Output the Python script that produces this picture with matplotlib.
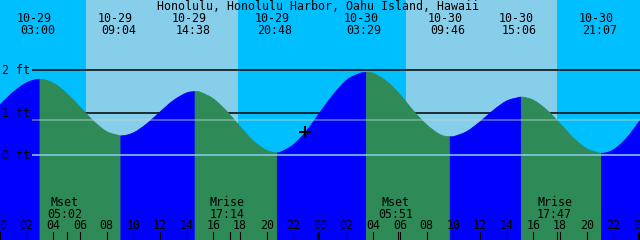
import matplotlib
matplotlib.use("Agg")
import matplotlib.pyplot as plt
import matplotlib.transforms as mtransforms
from matplotlib.path import Path
from matplotlib.patches import PathPatch
import numpy as np

# ---------------- data ----------------
title = "Honolulu, Honolulu Harbor, Oahu Island, Hawaii"
tide_dates = ["10-29", "10-29", "10-29", "10-29", "10-30", "10-30", "10-30", "10-30"]
tide_times = ["03:00", "09:04", "14:38", "20:48", "03:29", "09:46", "15:06", "21:07"]
tide_heights = [1.78, 0.45, 1.49, 0.05, 1.94, 0.43, 1.36, 0.04]

# water level, every hour from 10-29 00:00 to 10-31 00:00 (ft)
hourly_heights = [1.18, 1.48, 1.70, 1.78, 1.69, 1.45, 1.13, 0.80, 0.55, 0.45,
                  0.52, 0.73, 1.01, 1.28, 1.46, 1.48, 1.32, 1.03, 0.67, 0.33,
                  0.11, 0.06, 0.24, 0.57, 1.00, 1.42, 1.76, 1.92, 1.92, 1.73,
                  1.42, 1.04, 0.71, 0.48, 0.43, 0.55, 0.78, 1.05, 1.27, 1.36,
                  1.29, 1.06, 0.74, 0.40, 0.15, 0.04, 0.12, 0.40, 0.81]

day_dates = ["10-29", "10-30"]
sunrise_times = ["06:27", "06:27"]
sunset_times = ["17:50", "17:46"]

moon_dates = ["10-29", "10-29", "10-30", "10-30"]
moon_names = ["Mset", "Mrise", "Mset", "Mrise"]
moon_times = ["05:02", "17:14", "05:51", "17:47"]

level_values = [2, 1, 0]
level_labels = ["2 ft", "1 ft", "0 ft"]
mean_level = 0.82

now_time = "22:52"
now_date = "10-29"
now_height = 0.54

# ---------------- helpers ----------------
def to_hours(date, clock):
    off = 0 if date == "10-29" else 24
    hh, mm = clock.split(":")
    return off + int(hh) + int(mm) / 60.0

NIGHT = "#00BFFF"
DAY = "#87CEEB"
FLOOD = "#0000FF"
EBB = "#2E8B57"
PXH = 640 / 48.0  # pixels per hour
YMIN = -2.0

def yf(px):  # pixel row (from top) -> axes fraction
    return 1 - px / 240.0

fig = plt.figure(figsize=(6.4, 2.4), dpi=100)
ax = fig.add_axes([0, 0, 1, 1])
ax.set_xlim(0, 48)
ax.set_ylim(YMIN, 155 / 42.5)
ax.axis("off")
bt = mtransforms.blended_transform_factory(ax.transData, ax.transAxes)
FONT = dict(family="DejaVu Sans Mono", size=8.4, color="black")

# sky
ax.axvspan(0, 48, color=NIGHT, zorder=0, lw=0)
for d, sr, ss in zip(day_dates, sunrise_times, sunset_times):
    ax.axvspan(to_hours(d, sr), to_hours(d, ss), color=DAY, zorder=0.5, lw=0)

# upper level lines (hidden under water)
x0 = 32 / PXH
for v in level_values[:2]:
    ax.plot([x0, 48], [v, v], color="black", lw=1.1, zorder=1, solid_capstyle="butt")

# water: hourly readings plus the tide extremes, drawn as smooth Bezier path
hours = np.arange(len(hourly_heights), dtype=float)
ext_t = np.array([to_hours(d, c) for d, c in zip(tide_dates, tide_times)])
ext_h = np.array(tide_heights)
all_t = np.concatenate([hours, ext_t])
all_h = np.concatenate([np.array(hourly_heights), ext_h])
is_ext = np.concatenate([np.zeros(len(hours), bool), np.ones(len(ext_t), bool)])
order = np.argsort(all_t, kind="stable")
all_t, all_h, is_ext = all_t[order], all_h[order], is_ext[order]
# drop hourly readings that coincide with an extreme
keep = np.ones(len(all_t), bool)
for i in range(len(all_t) - 1):
    if abs(all_t[i + 1] - all_t[i]) < 1e-6:
        keep[i if not is_ext[i] else i + 1] = False
all_t, all_h, is_ext = all_t[keep], all_h[keep], is_ext[keep]

n = len(all_t)
slope = np.zeros(n)
for i in range(n):
    if is_ext[i]:
        slope[i] = 0.0
    elif i == 0:
        slope[i] = (all_h[1] - all_h[0]) / (all_t[1] - all_t[0])
    elif i == n - 1:
        slope[i] = (all_h[-1] - all_h[-2]) / (all_t[-1] - all_t[-2])
    else:
        slope[i] = (all_h[i + 1] - all_h[i - 1]) / (all_t[i + 1] - all_t[i - 1])

bounds = [0.0] + list(ext_t) + [48.0]
for k in range(len(bounds) - 1):
    a, b = bounds[k], bounds[k + 1]
    idx = [i for i in range(n) if a - 1e-9 <= all_t[i] <= b + 1e-9]
    verts = [(all_t[idx[0]], YMIN), (all_t[idx[0]], all_h[idx[0]])]
    codes = [Path.MOVETO, Path.LINETO]
    for i, j in zip(idx[:-1], idx[1:]):
        dt = all_t[j] - all_t[i]
        verts += [(all_t[i] + dt / 3, all_h[i] + slope[i] * dt / 3),
                  (all_t[j] - dt / 3, all_h[j] - slope[j] * dt / 3),
                  (all_t[j], all_h[j])]
        codes += [Path.CURVE4] * 3
    verts += [(all_t[idx[-1]], YMIN), (all_t[idx[0]], YMIN)]
    codes += [Path.LINETO, Path.CLOSEPOLY]
    rising = all_h[idx[-1]] > all_h[idx[0]]
    col = FLOOD if rising else EBB
    ax.add_patch(PathPatch(Path(verts, codes), facecolor=col, edgecolor=col,
                           lw=0.6, zorder=2))

# lines over water
ax.plot([x0, 48], [0, 0], color="#8fd0f0", lw=1.1, zorder=3, solid_capstyle="butt")
ax.plot([x0, 48], [mean_level, mean_level], color="#b8d8d0", alpha=0.55, lw=1.1,
        zorder=3, solid_capstyle="butt")

# level labels
for v, lab in zip(level_values, level_labels):
    ax.text(1.7 / PXH, v - 4.3 / 42.5, lab, ha="left", va="baseline", zorder=5, **FONT)

# title
ax.text(318.5 / PXH, yf(10), title, transform=bt, ha="center", va="baseline", zorder=5, **FONT)

# tide event labels
for d, c, t in zip(tide_dates, tide_times, ext_t):
    ax.text(t - 5.5 / PXH, yf(21.7), d, transform=bt, ha="center", va="baseline", zorder=5, **FONT)
    ax.text(t - 2.3 / PXH, yf(34), c, transform=bt, ha="center", va="baseline", zorder=5, **FONT)

# moon events
for d, nme, c in zip(moon_dates, moon_names, moon_times):
    t = to_hours(d, c)
    ax.text(t - 2.5 / PXH, yf(206), nme, transform=bt, ha="center", va="baseline", zorder=5, **FONT)
    ax.text(t - 2.5 / PXH, yf(218.3), c, transform=bt, ha="center", va="baseline", zorder=5, **FONT)
    ax.plot([t, t], [yf(232), 0], transform=bt, color="black", lw=0.8, zorder=5)

# hour ticks
for h in range(0, 49, 2):
    ax.text(h, yf(229.3), "%02d" % (h % 24), transform=bt, ha="center", va="baseline",
            zorder=5, **FONT)
    if h % 24 == 0 and h > 0:
        ax.plot([h - 1.5 / PXH] * 2, [yf(232), 0], transform=bt, color="black", lw=2.2,
                zorder=5, solid_capstyle="butt")
    else:
        ax.plot([h, h], [yf(232), 0], transform=bt, color="black", lw=0.8, zorder=5)

# current time marker
ax.plot([to_hours(now_date, now_time)], [now_height], marker="+", color="black",
        markersize=9, mew=1.5, zorder=6)

fig.savefig("out.png", dpi=100)
